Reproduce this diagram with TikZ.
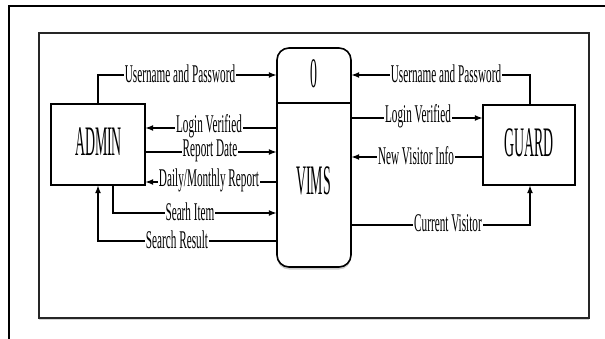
\documentclass[tikz,border=0pt]{standalone}
\usepackage{fontspec}
\setmainfont{Liberation Serif}
\newfontfamily\bigf[FakeStretch=0.33]{Liberation Serif}
\newfontfamily\labf[FakeStretch=0.44]{Liberation Serif}
\usetikzlibrary{arrows.meta,shadows}
\begin{document}
\begin{tikzpicture}[x=1pt,y=-1pt,
  ln/.style={line width=1.5pt},
  arr/.style={ln,-{Latex[length=8pt,width=6pt]}},
  lab/.style={fill=white,inner sep=1pt,font=\labf\fontsize{25.5}{25.5}\selectfont},
  bigt/.style={inner sep=0pt,font=\bigf\fontsize{42}{42}\selectfont}]
\useasboundingbox (0,0) rectangle (605,339);
% frames
\draw[line width=1.5pt] (9,339) -- (9,6) -- (606,6);
\draw[line width=1.8pt,draw=black!85,fill=white,
  drop shadow={shadow xshift=0pt,shadow yshift=-2pt,opacity=0.35}] (39,33) rectangle (589,318);
% nodes
\draw[line width=1.6pt] (51,104) rectangle (145,185);
\node[inner sep=0pt,minimum width=94pt,minimum height=81pt] (admin) at (98,144.5) {};
\node[bigt] at (98.5,141.5) {ADMIN};
\draw[line width=1.6pt] (483,105) rectangle (575,185);
\node[inner sep=0pt,minimum width=92pt,minimum height=80pt] (guard) at (529,145) {};
\node[bigt] at (529,142.5) {GUARD};
\draw[line width=1.6pt,rounded corners=12pt,fill=white,
  drop shadow={shadow xshift=0pt,shadow yshift=-2.5pt,opacity=0.4}] (277,48) rectangle (351,267);
\node[inner sep=0pt,minimum width=74pt,minimum height=219pt] (vims) at (314,157.5) {};
\draw[line width=1.6pt] (277,103) -- (351,103);
\node[bigt] at (314,74) {0};
\node[bigt] at (313.5,181) {VIMS};
% helper coordinates
\coordinate (u1) at (98,75);
\coordinate (l1) at (0,128);
\coordinate (r1) at (0,152);
\coordinate (d1) at (0,182);
\coordinate (s1) at (113,213);
\coordinate (s2) at (98,241);
\coordinate (u2) at (530,75);
\coordinate (l2) at (0,118);
\coordinate (n2) at (0,157);
\coordinate (c2) at (530,225);
% admin side
\draw[arr] (admin.north -| u1) |- (vims.west |- u1);
\draw[arr] (vims.west |- l1) -- (admin.east |- l1);
\draw[arr] (admin.east |- r1) -- (vims.west |- r1);
\draw[arr] (vims.west |- d1) -- (admin.east |- d1);
\draw[arr] (admin.south -| s1) |- (vims.west |- s1);
\draw[arr] (vims.west |- s2) -| (admin.south -| s2);
% guard side
\draw[arr] (guard.north -| u2) |- (vims.east |- u2);
\draw[arr] (vims.east |- l2) -- (guard.west |- l2);
\draw[arr] (guard.west |- n2) -- (vims.east |- n2);
\draw[arr] (vims.east |- c2) -| (guard.south -| c2);
% labels
\node[lab] (t1) at (180,73.5) {Username and Password};
\node[lab] (t2) at (209,126.5) {Login Verified};
\node[lab] (t3) at (210,150.5) {Report Date};
\node[lab] (t4) at (209,180.5) {Daily/Monthly Report};
\node[lab] (t5) at (190,211.5) {Searh Item};
\node[lab] (t6) at (177,239.5) {Search Result};
\node[lab] (t7) at (446,73.5) {Username and Password};
\node[lab] (t8) at (418,116.5) {Login Verified};
\node[lab] (t9) at (416,155.5) {New Visitor Info};
\node[lab] (t10) at (448,223.5) {Current Visitor};
\end{tikzpicture}
\end{document}
